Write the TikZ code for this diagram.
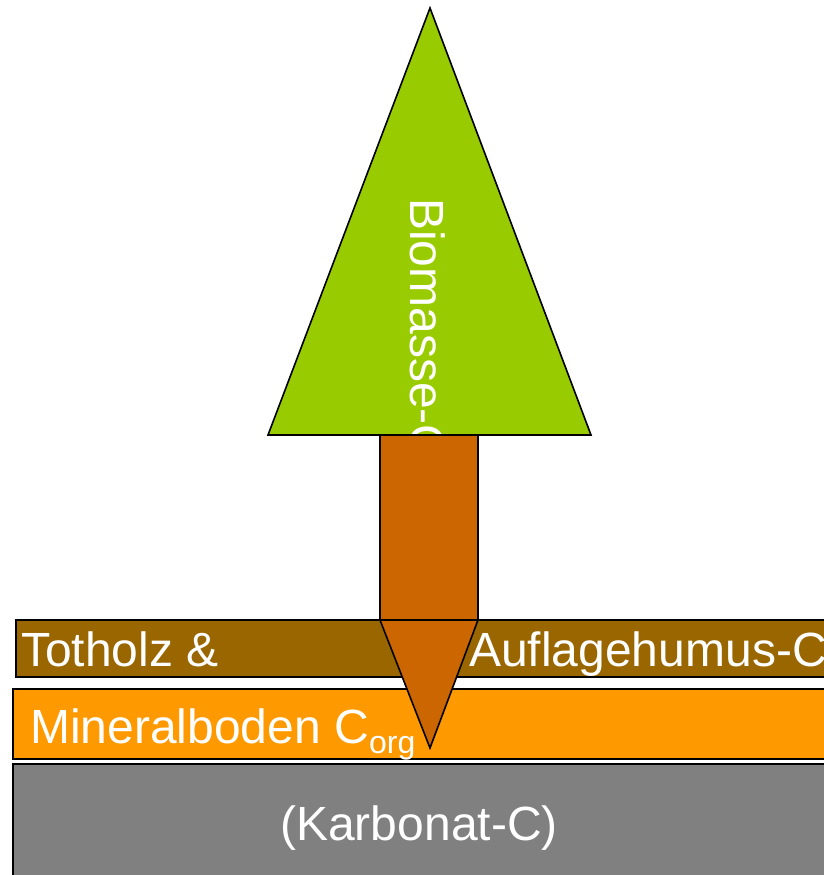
\documentclass[tikz,border=0pt]{standalone}
\usepackage{fontspec}
\setmainfont{Liberation Sans}
\definecolor{crown}{HTML}{99CC00}
\definecolor{wood}{HTML}{CC6600}
\definecolor{deadwood}{HTML}{996600}
\definecolor{mineral}{HTML}{FF9900}
\definecolor{carbonate}{HTML}{808080}
\begin{document}
\begin{tikzpicture}[x=1pt,y=-1pt,
  part/.style={draw=black,line width=1.6pt,line join=miter},
  label/.style={text=white,inner sep=0pt,font=\fontsize{48}{52}\selectfont}]
\useasboundingbox (0,0) rectangle (823,875);
% soil layers
\path[part,fill=deadwood] (16,620) rectangle (840,677);
\path[part,fill=mineral] (13,689) rectangle (840,759);
\path[part,fill=carbonate] (13,764) rectangle (840,890);
\node[label,anchor=base west] (totholz) at (21,666) {Totholz \&};
\node[label,anchor=base west] (auflage) at (469,666) {Auflagehumus-C};
\node[label,anchor=base west] (mineralboden) at (30,743) {Mineralboden C\raisebox{-10pt}{\fontsize{32}{32}\selectfont org}};
\node[label,anchor=base] (karbonat) at (419,840) {(Karbonat-C)};
% tree crown with its label
\path[part,fill=crown] (430,8) -- (591,435) -- (268,435) -- cycle;
\node[label,anchor=base west,rotate=-90] (biomasse) at (410,198) {Biomasse-C};
% trunk and root
\path[part,fill=wood] (380,435) rectangle (478,620);
\path[part,fill=wood] (380,620) -- (478,620) -- (430,748) -- cycle;
\end{tikzpicture}
\end{document}
